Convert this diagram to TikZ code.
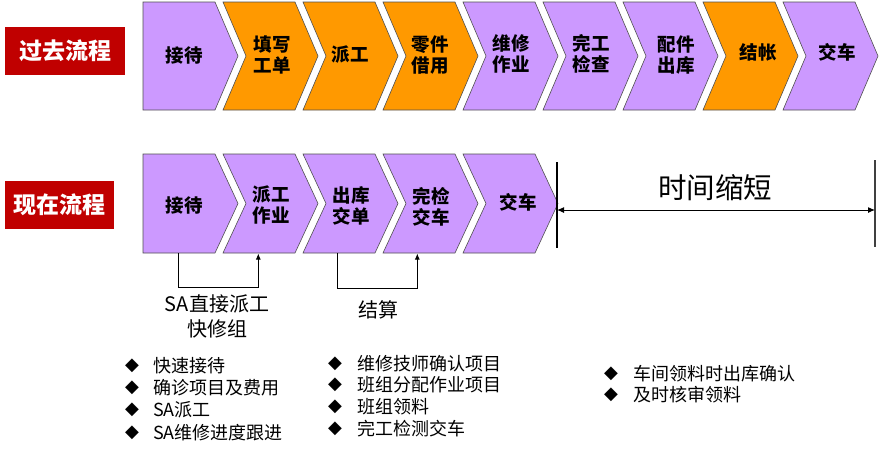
\documentclass[tikz,border=0pt]{standalone}
\usepackage{fontspec}
\setmainfont{Noto Sans CJK SC}
\newfontfamily\symfont{DejaVu Sans}
\usetikzlibrary{arrows.meta}
\definecolor{purp}{HTML}{CC99FF}
\definecolor{orng}{HTML}{FF9900}
\definecolor{redbox}{HTML}{C00000}
\definecolor{edge}{HTML}{505050}
\definecolor{barcol}{HTML}{404040}
\tikzset{
  chevshape/.style={draw=edge, line width=0.6pt, line join=miter},
  chevtext/.style={font=\bfseries\fontsize{18.5}{20.5}\selectfont, align=center, inner sep=0pt},
  tag/.style={fill=redbox, text=white, font=\bfseries\fontsize{23}{24}\selectfont, inner sep=0pt, anchor=north west, minimum height=48pt},
  link/.style={draw=black, line width=0.9pt, -{Latex[length=6pt,width=5pt]}},
  note/.style={font=\fontsize{20}{25}\selectfont, align=center, inner sep=0pt},
  bul/.style={font=\fontsize{18}{22}\selectfont, anchor=west, inner sep=0pt},
  dia/.style={font=\symfont\fontsize{18}{18}\selectfont, inner sep=0pt},
  bigtext/.style={font=\fontsize{28.5}{30}\selectfont, inner sep=0pt},
}
% #1 L, #2 T, #3 B, #4 fill, #5 notch (0/1)
\newcommand\chev[5]{%
  \path[chevshape, fill=#4] (#1,#2) -- ({#1+72},#2) -- ({#1+95},{(#2+#3)/2}) -- ({#1+72},#3) -- (#1,#3) -- ({#1+23*#5},{(#2+#3)/2}) -- cycle;
}
\begin{document}
\begin{tikzpicture}[x=1pt,y=-1pt]
\useasboundingbox (0,0) rectangle (884,451);
% labels
\node[tag, minimum width=120pt] (past) at (5,27) {过去流程};
\node[tag, minimum width=109pt] (now) at (5,181) {现在流程};
% top row
\chev{143}{2}{110}{purp}{0}
\chev{223}{2}{110}{orng}{1}
\chev{303}{2}{110}{orng}{1}
\chev{383}{2}{110}{orng}{1}
\chev{463}{2}{110}{purp}{1}
\chev{543}{2}{110}{purp}{1}
\chev{623}{2}{110}{purp}{1}
\chev{703}{2}{110}{orng}{1}
\chev{783}{2}{110}{purp}{1}
\node[chevtext] (p1) at (184,55) {接待};
\node[chevtext] (p2) at (272,55) {填写\\工单};
\node[chevtext] (p3) at (350,55) {派工};
\node[chevtext] (p4) at (430,55) {零件\\借用};
\node[chevtext] (p5) at (511,54) {维修\\作业};
\node[chevtext] (p6) at (591,54) {完工\\检查};
\node[chevtext] (p7) at (676,55) {配件\\出库};
\node[chevtext] (p8) at (758,52) {结帐};
\node[chevtext] (p9) at (837,52) {交车};
% bottom row
\chev{143}{154}{253}{purp}{0}
\chev{223}{154}{253}{purp}{1}
\chev{303}{154}{253}{purp}{1}
\chev{383}{154}{253}{purp}{1}
\chev{463}{154}{253}{purp}{1}
\node[chevtext] (n1) at (184,205) {接待};
\node[chevtext] (n2) at (271,205) {派工\\作业};
\node[chevtext] (n3) at (351,206) {出库\\交单};
\node[chevtext] (n4) at (431,207) {完检\\交车};
\node[chevtext] (n5) at (518,202) {交车};
% connectors
\coordinate (n1b) at (178.3,253);
\coordinate (n2b) at (258.3,253.5);
\coordinate (n3b) at (337.7,253);
\coordinate (n4b) at (417.3,253.5);
\draw[link] (n1b) -- ++(0,34) -| (n2b);
\draw[link] (n3b) -- ++(0,35) -| (n4b);
\node[note] (sa) at (217,316) {SA直接派工\\快修组};
\node[note] (js) at (378,310) {结算};
% time shortened
\coordinate (tl) at (557,210);
\coordinate (tr) at (875,210);
\draw[line width=1.2pt] (557,162) -- (557,248);
\draw[line width=2pt, draw=barcol] (875,160) -- (875,247);
\draw[line width=1pt, {Latex[length=7pt,width=6pt]}-{Latex[length=7pt,width=6pt]}] (tl) -- (tr);
\node[bigtext] (ts) at (715,188) {时间缩短};
% bullets column 1
\foreach \y/\t in {366/快速接待, 388/确诊项目及费用, 410/SA派工, 433/SA维修进度跟进}{
  \node[dia] at (132,\y) {◆};
  \node[bul] at (153,\y) {\t};
}
% bullets column 2
\foreach \y/\t in {364/维修技师确认项目, 385/班组分配作业项目, 407/班组领料, 429/完工检测交车}{
  \node[dia] at (335,\y) {◆};
  \node[bul] at (357,\y) {\t};
}
% bullets column 3
\foreach \y/\t in {374/车间领料时出库确认, 395/及时核审领料}{
  \node[dia] at (611,\y) {◆};
  \node[bul] at (633,\y) {\t};
}
\end{tikzpicture}
\end{document}
